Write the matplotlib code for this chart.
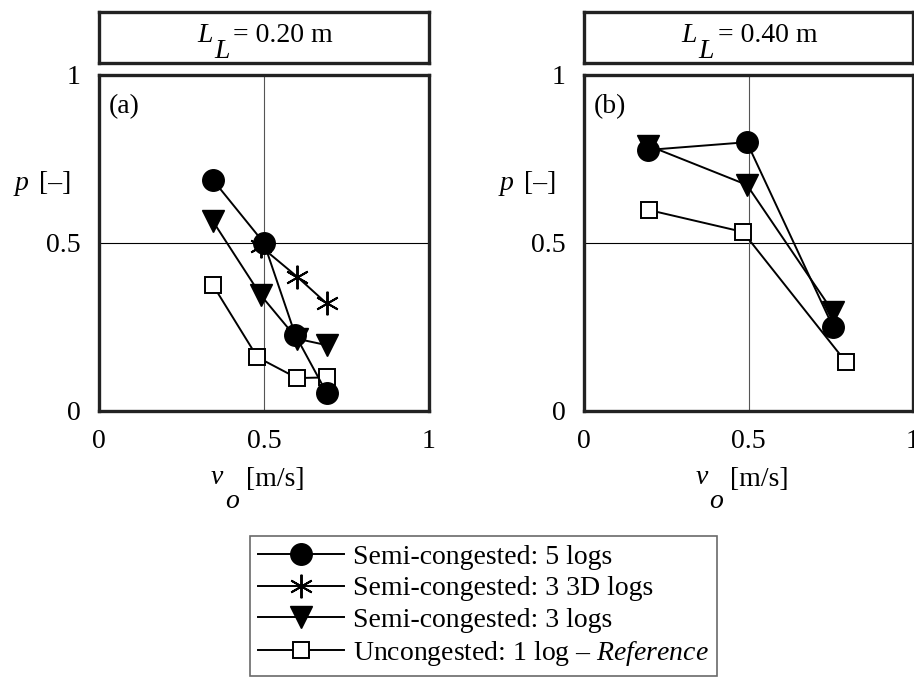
import matplotlib
matplotlib.use("Agg")
import matplotlib.pyplot as plt
from matplotlib.lines import Line2D

plt.rcParams["font.family"] = ["Liberation Serif", "DejaVu Serif"]

W, H = 914, 684

# Panel (a): L_L = 0.20 m
a_circ_x = [0.345, 0.50, 0.595, 0.69]
a_circ_y = [0.688, 0.500, 0.226, 0.054]
a_star_x = [0.49, 0.60, 0.69]
a_star_y = [0.49, 0.40, 0.32]
a_tri_x = [0.345, 0.49, 0.60, 0.69]
a_tri_y = [0.565, 0.345, 0.215, 0.196]
a_sq_x = [0.345, 0.48, 0.60, 0.69]
a_sq_y = [0.375, 0.160, 0.098, 0.100]

# Panel (b): L_L = 0.40 m
b_circ_x = [0.195, 0.495, 0.757]
b_circ_y = [0.777, 0.800, 0.250]
b_tri_x = [0.195, 0.495, 0.757]
b_tri_y = [0.790, 0.673, 0.295]
b_sq_x = [0.198, 0.483, 0.796]
b_sq_y = [0.598, 0.533, 0.146]

ticks = [0, 0.5, 1]
tick_labels = ["0", "0.5", "1"]
titles = ["0.20 m", "0.40 m"]
panel_tags = ["(a)", "(b)"]
legend_labels = ["Semi-congested: 5 logs", "Semi-congested: 3 3D logs",
                 "Semi-congested: 3 logs", "Uncongested: 1 log \u2013 $\\it{Reference}$"]

FS = 20
LW = 1.4
circ_kw = dict(color="black", lw=LW, marker="o", ms=15.5, mfc="black", mec="black")
star_kw = dict(color="black", lw=LW, marker=(6, 2, 0), ms=17, mec="black", mew=1.4)
tri_kw = dict(color="black", lw=LW, marker="v", ms=16, mfc="black", mec="black")
sq_kw = dict(color="black", lw=LW, marker="s", ms=12, mfc="white", mec="black", mew=1.4)

plt.rcParams["mathtext.fontset"] = "custom"
plt.rcParams["mathtext.rm"] = "Liberation Serif"
plt.rcParams["mathtext.it"] = "Liberation Serif:italic"

fig = plt.figure(figsize=(W / 100, H / 100), dpi=100)


def fx(px):
    return px / W


def fy(py):
    return 1 - py / H


def panel(left_px, right_px, title, tag, data):
    ax = fig.add_axes([fx(left_px), fy(411), (right_px - left_px) / W, 336 / H])
    ax.set_xlim(0, 1)
    ax.set_ylim(0, 1)
    ax.set_xticks(ticks, tick_labels)
    ax.set_yticks(ticks, tick_labels)
    ax.tick_params(length=0, labelsize=FS, pad=13)
    ax.axhline(0.5, color="black", lw=0.8, zorder=1)
    ax.axvline(0.5, color="#555555", lw=0.8, zorder=1)
    for s in ax.spines.values():
        s.set_linewidth(2.4)
        s.set_color("#222222")
    for xs, ys, kw in data:
        ax.plot(xs, ys, clip_on=False, zorder=3, **kw)
    ax.text(0.03, 0.905, tag, transform=ax.transAxes, fontsize=FS, va="center", ha="left")

    # title box
    tb = fig.add_axes([fx(left_px), fy(63), (right_px - left_px) / W, 51 / H])
    tb.set_xticks([])
    tb.set_yticks([])
    for s in tb.spines.values():
        s.set_linewidth(2.4)
        s.set_color("#222222")
    cx = (left_px + right_px) / 2
    fig.text(fx(cx - 59), fy(36), "L", fontsize=FS, style="italic", ha="center", va="center")
    fig.text(fx(cx - 42), fy(51), "L", fontsize=FS, style="italic", ha="center", va="center")
    fig.text(fx(cx - 31), fy(36), "= " + title, fontsize=FS, ha="left", va="center")

    # x label
    fig.text(fx(cx - 47), fy(478), "v", fontsize=FS, style="italic", ha="center", va="center")
    fig.text(fx(cx - 32), fy(501), "o", fontsize=FS, style="italic", ha="center", va="center")
    fig.text(fx(cx - 18), fy(480), "[m/s]", fontsize=FS, ha="left", va="center")

    # y label
    fig.text(fx(left_px - 77), fy(183), "p", fontsize=FS, style="italic", ha="center", va="center")
    fig.text(fx(left_px - 60), fy(183), "[\u2013]", fontsize=FS, ha="left", va="center")
    return ax


panel(99, 429, titles[0], panel_tags[0],
      [(a_sq_x, a_sq_y, sq_kw), (a_tri_x, a_tri_y, tri_kw),
       (a_star_x, a_star_y, star_kw), (a_circ_x, a_circ_y, circ_kw)])
panel(584, 913, titles[1], panel_tags[1],
      [(b_sq_x, b_sq_y, sq_kw), (b_tri_x, b_tri_y, tri_kw),
       (b_circ_x, b_circ_y, circ_kw)])

handles = [Line2D([], [], **circ_kw), Line2D([], [], **star_kw),
           Line2D([], [], **tri_kw), Line2D([], [], **sq_kw)]
leg = fig.legend(handles, legend_labels, loc="upper left",
                 bbox_to_anchor=(fx(250), fy(536)), borderaxespad=0,
                 fontsize=FS, frameon=True, fancybox=False, handlelength=3.1,
                 handletextpad=0.3, labelspacing=0.22, borderpad=0.3)
leg.get_frame().set_edgecolor("#444444")
leg.get_frame().set_linewidth(1.2)

fig.savefig("out.png", dpi=100)
